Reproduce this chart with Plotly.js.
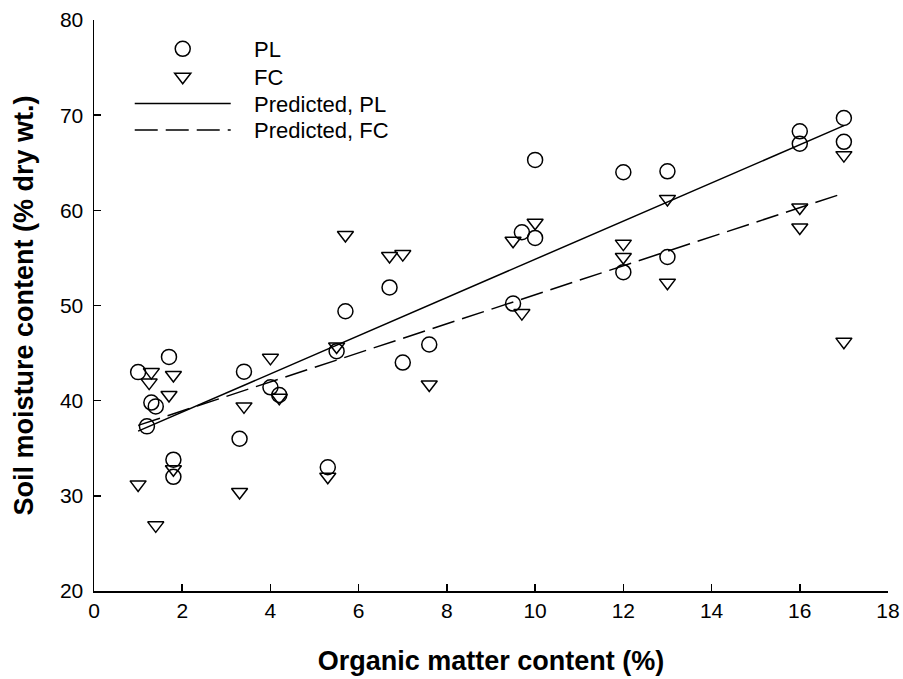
<!DOCTYPE html>
<html>
<head>
<meta charset="utf-8">
<script src="https://cdn.plot.ly/plotly-3.0.1.min.js"></script>
<style>html,body{margin:0;padding:0;background:#fff;}#chart{width:903px;height:679px;}</style>
</head>
<body>
<div id="chart"></div>
<script>
// Observed PL (plastic limit) values
var plX = [1.0, 1.2, 1.3, 1.4, 1.7, 1.8, 1.8, 3.3, 3.4, 4.0, 4.2, 5.3, 5.5, 5.7, 6.7, 7.0, 7.6, 9.5, 9.7, 10.0, 10.0, 12.0, 12.0, 13.0, 13.0, 16.0, 16.0, 17.0, 17.0];
var plY = [43.0, 37.3, 39.8, 39.4, 44.6, 33.8, 32.0, 36.0, 43.05, 41.4, 40.6, 33.0, 45.2, 49.4, 51.9, 44.0, 45.9, 50.2, 57.7, 57.1, 65.3, 64.0, 53.5, 64.1, 55.1, 68.3, 67.0, 69.7, 67.2];
// Observed FC (field capacity) values
var fcX = [1.0, 1.3, 1.25, 1.4, 1.7, 1.8, 1.8, 3.3, 3.4, 4.0, 4.2, 5.3, 5.5, 5.7, 6.7, 7.0, 7.6, 9.5, 9.7, 10.0, 12.0, 12.0, 13.0, 13.0, 16.0, 16.0, 17.0, 17.0];
var fcY = [31.2, 43.0, 41.9, 26.9, 40.6, 42.7, 32.8, 30.4, 39.4, 44.5, 40.3, 32.0, 45.7, 57.4, 55.2, 55.4, 41.7, 56.8, 49.2, 58.7, 56.5, 55.1, 61.2, 52.4, 60.3, 58.2, 65.8, 46.2];
// Predicted lines
var predX = [1.0, 17.0];
var predPL = [36.8, 68.9];
var predFC = [37.4, 61.8];

var seriesNames = ['PL', 'FC', 'Predicted, PL', 'Predicted, FC'];
var xTicks = [0, 2, 4, 6, 8, 10, 12, 14, 16, 18];
var yTicks = [20, 30, 40, 50, 60, 70, 80];

var FONT = 'Arial, "Liberation Sans", sans-serif';
var PAD = '\u00a0\u00a0\u00a0';

var traces = [
  {x: plX, y: plY, type: 'scatter', mode: 'markers', name: PAD + seriesNames[0], legend: 'legend',
   marker: {symbol: 'circle-open', size: 15, color: '#000', line: {width: 1.5, color: '#000'}}},
  {x: fcX, y: fcY, type: 'scatter', mode: 'markers', name: PAD + seriesNames[1], legend: 'legend2',
   marker: {symbol: 'triangle-down-open', size: 14, color: '#000', line: {width: 1.5, color: '#000'}}},
  {x: predX, y: predPL, type: 'scatter', mode: 'lines', name: PAD + seriesNames[2], legend: 'legend3',
   line: {color: '#000', width: 1.5}},
  {x: predX, y: predFC, type: 'scatter', mode: 'lines', name: PAD + seriesNames[3], legend: 'legend4',
   line: {color: '#000', width: 1.5, dash: '23px,8px'}}
];

function leg(y) {
  return {x: 0.045, y: y, xanchor: 'left', yanchor: 'top', bgcolor: 'rgba(0,0,0,0)',
          font: {family: FONT, size: 22, color: '#000'}, itemwidth: 96};
}

var layout = {
  width: 903, height: 679,
  margin: {l: 94, r: 15, t: 20, b: 88},
  paper_bgcolor: '#fff', plot_bgcolor: '#fff',
  font: {family: FONT, color: '#000', size: 21},
  showlegend: true,
  legend: leg(0.986), legend2: leg(0.937), legend3: leg(0.890), legend4: leg(0.844),
  xaxis: {range: [0, 18], tickvals: xTicks, ticktext: xTicks.map(String),
          showgrid: false, zeroline: false, showline: true, linecolor: '#000', linewidth: 1.5,
          ticks: 'inside', ticklen: 7, tickwidth: 1.5, tickcolor: '#000',
          tickfont: {family: FONT, size: 21, color: '#000'},
          title: {text: '<b>Organic matter content (%)</b>', font: {family: FONT, size: 27, color: '#000'}, standoff: 30}},
  yaxis: {range: [20, 80], tickvals: yTicks, ticktext: yTicks.map(String),
          showgrid: false, zeroline: false, showline: true, linecolor: '#000', linewidth: 1.5,
          ticks: 'inside', ticklen: 7, tickwidth: 1.5, tickcolor: '#000', ticklabelstandoff: 5,
          tickfont: {family: FONT, size: 21, color: '#000'},
          title: {text: '<b>Soil moisture content (% dry wt.)</b>', font: {family: FONT, size: 27, color: '#000'}, standoff: 18}}
};

Plotly.newPlot('chart', traces, layout, {staticPlot: true, displayModeBar: false});
</script>
</body>
</html>
